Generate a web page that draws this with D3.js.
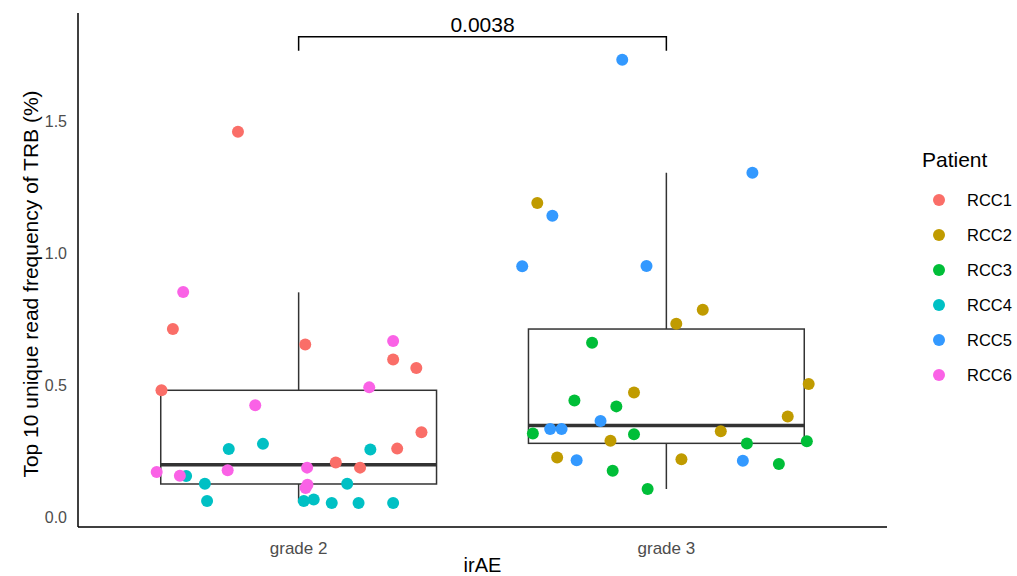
<!DOCTYPE html>
<html>
<head>
<meta charset="utf-8">
<script src="https://cdn.jsdelivr.net/npm/d3@7.9.0/dist/d3.min.js"></script>
<style>
  body { margin: 0; background: #fff; }
  svg { display: block; font-family: 'Liberation Sans', Arial, sans-serif; }
</style>
</head>
<body>
<svg id="chart" width="1017" height="576"></svg>
<script>
// categories and groups
const grades = ['grade 2', 'grade 3'];
const patients = ['RCC1', 'RCC2', 'RCC3', 'RCC4', 'RCC5', 'RCC6'];
const patientColors = ['#FA6E68', '#C09B00', '#00BE38', '#00C0C4', '#3399FF', '#FA62E6'];

// [patient, grade, value (%), horizontal jitter in category units]
const points = [
  ['RCC1', 'grade 2', 1.459, -0.165], ['RCC1', 'grade 2', 0.712, -0.342],
  ['RCC1', 'grade 2', 0.653, 0.018], ['RCC1', 'grade 2', 0.597, 0.257],
  ['RCC1', 'grade 2', 0.564, 0.320], ['RCC1', 'grade 2', 0.480, -0.373],
  ['RCC1', 'grade 2', 0.321, 0.334], ['RCC1', 'grade 2', 0.259, 0.268],
  ['RCC1', 'grade 2', 0.206, 0.101], ['RCC1', 'grade 2', 0.187, 0.167],

  ['RCC2', 'grade 3', 1.189, -0.351], ['RCC2', 'grade 3', 0.785, 0.099],
  ['RCC2', 'grade 3', 0.732, 0.027], ['RCC2', 'grade 3', 0.504, 0.387],
  ['RCC2', 'grade 3', 0.472, -0.088], ['RCC2', 'grade 3', 0.381, 0.330],
  ['RCC2', 'grade 3', 0.325, 0.148], ['RCC2', 'grade 3', 0.289, -0.152],
  ['RCC2', 'grade 3', 0.225, -0.297], ['RCC2', 'grade 3', 0.219, 0.041],

  ['RCC3', 'grade 3', 0.660, -0.202], ['RCC3', 'grade 3', 0.441, -0.250],
  ['RCC3', 'grade 3', 0.419, -0.136], ['RCC3', 'grade 3', 0.316, -0.363],
  ['RCC3', 'grade 3', 0.313, -0.088], ['RCC3', 'grade 3', 0.278, 0.219],
  ['RCC3', 'grade 3', 0.287, 0.382], ['RCC3', 'grade 3', 0.201, 0.306],
  ['RCC3', 'grade 3', 0.175, -0.146], ['RCC3', 'grade 3', 0.106, -0.051],

  ['RCC4', 'grade 2', 0.258, -0.190], ['RCC4', 'grade 2', 0.277, -0.097],
  ['RCC4', 'grade 2', 0.256, 0.195], ['RCC4', 'grade 2', 0.155, -0.306],
  ['RCC4', 'grade 2', 0.126, -0.255], ['RCC4', 'grade 2', 0.126, 0.132],
  ['RCC4', 'grade 2', 0.061, -0.249], ['RCC4', 'grade 2', 0.061, 0.014],
  ['RCC4', 'grade 2', 0.066, 0.041], ['RCC4', 'grade 2', 0.053, 0.090],
  ['RCC4', 'grade 2', 0.053, 0.163], ['RCC4', 'grade 2', 0.053, 0.257],

  ['RCC5', 'grade 3', 1.732, -0.120], ['RCC5', 'grade 3', 1.304, 0.234],
  ['RCC5', 'grade 3', 1.141, -0.310], ['RCC5', 'grade 3', 0.950, -0.392],
  ['RCC5', 'grade 3', 0.951, -0.054], ['RCC5', 'grade 3', 0.364, -0.179],
  ['RCC5', 'grade 3', 0.333, -0.316], ['RCC5', 'grade 3', 0.333, -0.285],
  ['RCC5', 'grade 3', 0.215, -0.244], ['RCC5', 'grade 3', 0.213, 0.208],

  ['RCC6', 'grade 2', 0.852, -0.314], ['RCC6', 'grade 2', 0.667, 0.257],
  ['RCC6', 'grade 2', 0.491, 0.192], ['RCC6', 'grade 2', 0.423, -0.118],
  ['RCC6', 'grade 2', 0.170, -0.386], ['RCC6', 'grade 2', 0.156, -0.323],
  ['RCC6', 'grade 2', 0.177, -0.193], ['RCC6', 'grade 2', 0.187, 0.023],
  ['RCC6', 'grade 2', 0.122, 0.024], ['RCC6', 'grade 2', 0.110, 0.019],
];

// box stats per grade: [lower whisker, q1, median, q3, upper whisker]
const boxStats = [
  [0.055, 0.125, 0.198, 0.480, 0.851],
  [0.106, 0.279, 0.347, 0.712, 1.304],
];

const yTicks = [0, 0.5, 1.0, 1.5];
const pLabel = '0.0038';
const bracketY = 1.819;
const bracketTickY = 1.766;

const svg = d3.select('#chart');

const panel = { left: 78, right: 887, top: 13, bottom: 527 };

// discrete x: categories at 1 and 2 with 0.6 padding either side
const x = d3.scaleLinear()
  .domain([0.4, 2.6])
  .range([panel.left, panel.right]);

const y = d3.scaleLinear()
  .domain([-0.0379, 1.9091])
  .range([panel.bottom, panel.top]);

const color = d3.scaleOrdinal().domain(patients).range(patientColors);

const xPos = g => grades.indexOf(g) + 1;
const boxWidth = 0.75;

// boxes
const boxes = svg.append('g')
  .selectAll('g')
  .data(boxStats)
  .join('g');

boxes.append('line')
  .attr('x1', (d, i) => x(i + 1))
  .attr('x2', (d, i) => x(i + 1))
  .attr('y1', d => y(d[3]))
  .attr('y2', d => y(d[4]))
  .attr('stroke', '#333').attr('stroke-width', 1.5);

boxes.append('line')
  .attr('x1', (d, i) => x(i + 1))
  .attr('x2', (d, i) => x(i + 1))
  .attr('y1', d => y(d[0]))
  .attr('y2', d => y(d[1]))
  .attr('stroke', '#333').attr('stroke-width', 1.5);

boxes.append('rect')
  .attr('x', (d, i) => x(i + 1 - boxWidth / 2))
  .attr('width', x(1 + boxWidth) - x(1))
  .attr('y', d => y(d[3]))
  .attr('height', d => y(d[1]) - y(d[3]))
  .attr('fill', 'none')
  .attr('stroke', '#333').attr('stroke-width', 1.5);

boxes.append('line')
  .attr('x1', (d, i) => x(i + 1 - boxWidth / 2))
  .attr('x2', (d, i) => x(i + 1 + boxWidth / 2))
  .attr('y1', d => y(d[2]))
  .attr('y2', d => y(d[2]))
  .attr('stroke', '#333').attr('stroke-width', 3.5);

// jittered points
svg.append('g')
  .selectAll('circle')
  .data(points)
  .join('circle')
  .attr('cx', d => x(xPos(d[1]) + d[3]))
  .attr('cy', d => y(d[2]))
  .attr('r', 6)
  .attr('fill', d => color(d[0]));

// axes (theme_classic-like, no ticks)
const axisG = svg.append('g');
axisG.append('line')
  .attr('x1', panel.left).attr('x2', panel.left)
  .attr('y1', panel.top).attr('y2', panel.bottom)
  .attr('stroke', '#000').attr('stroke-width', 1.5);
axisG.append('line')
  .attr('x1', panel.left).attr('x2', panel.right)
  .attr('y1', panel.bottom).attr('y2', panel.bottom)
  .attr('stroke', '#000').attr('stroke-width', 1.5);

axisG.selectAll('.ytick')
  .data(yTicks)
  .join('text')
  .attr('class', 'ytick')
  .attr('x', panel.left - 11)
  .attr('y', d => y(d))
  .attr('dy', '0.35em')
  .attr('text-anchor', 'end')
  .attr('fill', '#4D4D4D')
  .attr('font-size', 16)
  .text(d => d3.format('.1f')(d));

axisG.selectAll('.xtick')
  .data(grades)
  .join('text')
  .attr('class', 'xtick')
  .attr('x', d => x(xPos(d)))
  .attr('y', panel.bottom + 27)
  .attr('text-anchor', 'middle')
  .attr('fill', '#4D4D4D')
  .attr('font-size', 17)
  .text(d => d);

svg.append('text')
  .attr('x', (panel.left + panel.right) / 2)
  .attr('y', 572)
  .attr('text-anchor', 'middle')
  .attr('font-size', 20)
  .text('irAE');

svg.append('text')
  .attr('transform', `translate(38,${(panel.top + panel.bottom) / 2 + 14}) rotate(-90)`)
  .attr('text-anchor', 'middle')
  .attr('font-size', 21)
  .text('Top 10 unique read frequency of TRB (%)');

// significance bracket
svg.append('path')
  .attr('d', `M${x(1)},${y(bracketTickY)}V${y(bracketY)}H${x(2)}V${y(bracketTickY)}`)
  .attr('fill', 'none')
  .attr('stroke', '#000')
  .attr('stroke-width', 1.5);

svg.append('text')
  .attr('x', (x(1) + x(2)) / 2)
  .attr('y', y(bracketY) - 5)
  .attr('text-anchor', 'middle')
  .attr('font-size', 21)
  .text(pLabel);

// legend
const legend = svg.append('g').attr('transform', 'translate(920,0)');
legend.append('text')
  .attr('x', 2)
  .attr('y', 167)
  .attr('font-size', 21)
  .text('Patient');

const items = legend.selectAll('.item')
  .data(patients)
  .join('g')
  .attr('class', 'item')
  .attr('transform', (d, i) => `translate(0,${200 + i * 35})`);

items.append('circle')
  .attr('cx', 19)
  .attr('cy', 0)
  .attr('r', 6)
  .attr('fill', d => color(d));

items.append('text')
  .attr('x', 47)
  .attr('y', 0)
  .attr('dy', '0.35em')
  .attr('font-size', 16.5)
  .text(d => d);
</script>
</body>
</html>
